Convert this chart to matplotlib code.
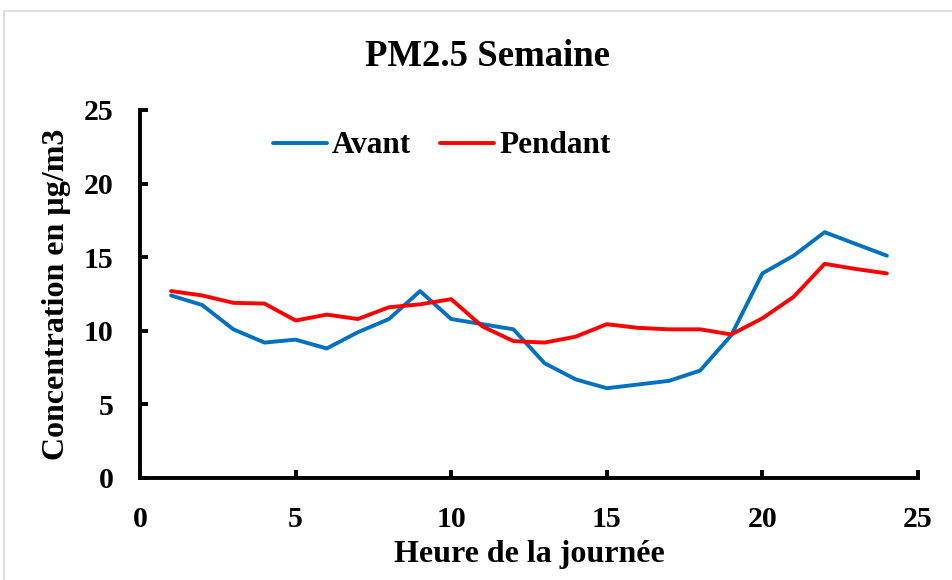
import matplotlib
matplotlib.use("Agg")
import matplotlib.pyplot as plt
from matplotlib.patches import Rectangle

hours = list(range(1, 25))
avant = [12.4, 11.75, 10.1, 9.2, 9.4, 8.8, 9.9, 10.8, 12.7, 10.8, 10.45, 10.1,
         7.8, 6.7, 6.1, 6.35, 6.6, 7.3, 9.7, 13.9, 15.1, 16.7, 15.9, 15.1]
pendant = [12.7, 12.4, 11.9, 11.85, 10.7, 11.1, 10.8, 11.6, 11.8, 12.15, 10.3, 9.3,
           9.2, 9.6, 10.45, 10.2, 10.1, 10.1, 9.75, 10.85, 12.3, 14.55, 14.2, 13.9]
xticks = [0, 5, 10, 15, 20, 25]
yticks = [0, 5, 10, 15, 20, 25]

plt.rcParams['font.family'] = ['Liberation Serif', 'DejaVu Serif']
plt.rcParams['font.weight'] = 'bold'

W, H = 953, 580
fig = plt.figure(figsize=(W / 100, H / 100), dpi=100)
# light grey chart border (Excel style)
fig.patches.append(Rectangle((4 / W, -0.1), 1.1, 1 - 11 / H + 0.1,
                             transform=fig.transFigure, fill=False,
                             edgecolor='#d9d9d9', linewidth=1.2))

ax = fig.add_axes([140 / W, 1 - 478 / H, (918 - 140) / W, (478 - 110) / H])
ax.plot(hours, avant, color='#0070C0', linewidth=2.8, label='Avant',
        solid_capstyle='round')
ax.plot(hours, pendant, color='#FF0000', linewidth=2.8, label='Pendant',
        solid_capstyle='round')

ax.set_xlim(0, 25)
ax.set_ylim(0, 25)
ax.set_xticks(xticks)
ax.set_yticks(yticks)
ax.tick_params(labelsize=21.5, width=2.8, length=5.5, direction='in')
ax.tick_params(axis='x', pad=20)
ax.tick_params(axis='y', pad=19)
for side in ['top', 'right']:
    ax.spines[side].set_visible(False)
for side in ['left', 'bottom']:
    ax.spines[side].set_linewidth(2.8)

fig.text(488 / W, 1 - 66 / H, 'PM2.5 Semaine', fontsize=26.5, fontweight='bold',
         ha='center', va='baseline')
fig.text(529 / W, 1 - 562 / H, 'Heure de la journée', fontsize=23,
         fontweight='bold', ha='center', va='baseline')
fig.text(57 / W, 1 - 294 / H, 'Concentration en µg/m3', fontsize=23,
         fontweight='bold', ha='center', va='center', rotation=90)

ax.legend(loc='center left', bbox_to_anchor=((273 - 140) / 778, (478 - 146) / 368),
          ncol=2, frameon=False, fontsize=22.5, handlelength=1.73,
          columnspacing=0.93, handletextpad=0.16, borderpad=0, borderaxespad=0)

fig.savefig('out.png', dpi=100)
